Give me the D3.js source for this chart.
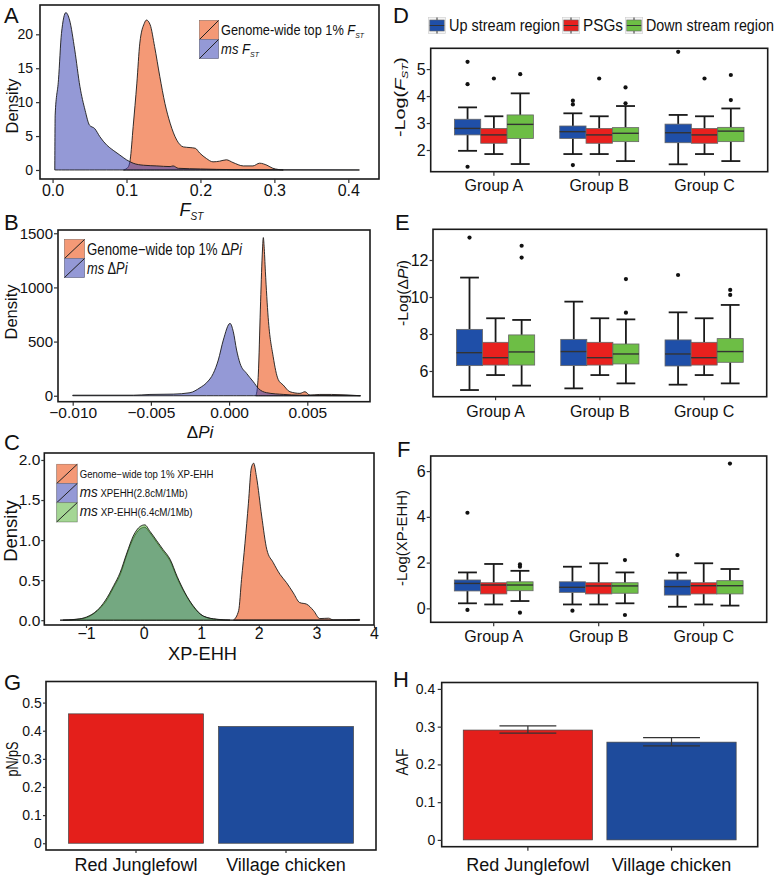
<!DOCTYPE html>
<html>
<head>
<meta charset="utf-8">
<script src="https://cdn.jsdelivr.net/npm/d3@7"></script>
<style>
  body { margin: 0; background: #fff; }
  text { font-family: "Liberation Sans", Arial, sans-serif; fill: #111; }
</style>
</head>
<body>
<svg id="fig" width="777" height="879"></svg>
<script>
// ---- density curves, [x, density] ----
const fstGenome = [[0.096,0],[0.102,0.4],[0.105,1.5],[0.109,6.4],[0.114,12.8],[0.118,18.7],[0.124,21.6],[0.127,22.1],[0.132,21.4],[0.138,18.2],[0.145,13.8],[0.152,9.8],[0.159,6.9],[0.168,4.4],[0.177,3.4],[0.186,3.3],[0.193,3.2],[0.199,2.5],[0.208,1.7],[0.217,1.2],[0.226,1.3],[0.235,1.5],[0.244,1.1],[0.258,0.6],[0.271,0.6],[0.280,1.0],[0.290,0.7],[0.298,0.25],[0.312,0]];
const fstMs = [[0.003,0],[0.0035,8.1],[0.008,13.3],[0.012,20.1],[0.018,23.2],[0.023,22.1],[0.030,17.7],[0.037,12.3],[0.044,8.8],[0.050,6.6],[0.057,6.1],[0.064,4.9],[0.073,3.7],[0.082,2.9],[0.091,2.2],[0.100,1.5],[0.109,1.0],[0.123,0.7],[0.141,0.6],[0.159,0.5],[0.163,0.6],[0.170,0.25],[0.200,0.15],[0.244,0.05],[0.310,0.02],[0.415,0]];

const piGenome = [[0.00170,0],[0.00178,40],[0.00187,200],[0.00200,800],[0.00212,1300],[0.00219,1460],[0.00224,1380],[0.00232,1150],[0.0025,720],[0.00282,360],[0.00314,150],[0.00346,99],[0.00389,37],[0.00453,22],[0.00485,37],[0.00517,6],[0.0058,12],[0.00655,12],[0.0084,0]];
const piMs = [[-0.0100,5],[-0.0061,5],[-0.00506,12],[-0.00357,15],[-0.0025,28],[-0.00186,74],[-0.00144,120],[-0.00101,206],[-0.00069,330],[-0.00037,514],[0.00006,668],[0.00027,591],[0.00048,422],[0.0007,299],[0.00112,206],[0.00155,129],[0.00187,68],[0.0024,28],[0.0035,12],[0.0045,5],[0.0084,0]];

const xpGenome = [[1.56,0],[1.65,0.12],[1.70,0.51],[1.76,0.96],[1.82,1.46],[1.87,1.90],[1.91,1.96],[1.96,1.79],[2.05,1.30],[2.14,0.88],[2.25,0.72],[2.37,0.57],[2.48,0.47],[2.60,0.34],[2.71,0.22],[2.83,0.20],[2.95,0.12],[3.06,0.02],[3.21,0.025],[3.29,0.004],[3.75,0.01]];
const xpMs28 = [[-1.40,0],[-1.10,0.015],[-0.95,0.045],[-0.80,0.12],[-0.66,0.23],[-0.52,0.41],[-0.40,0.58],[-0.29,0.82],[-0.18,1.02],[-0.06,1.14],[0.02,1.16],[0.11,1.09],[0.23,0.97],[0.34,0.86],[0.46,0.74],[0.58,0.53],[0.72,0.33],[0.86,0.17],[1.04,0.05],[1.27,0.01],[1.50,0]];
const xpMs64 = [[-1.45,0],[-1.16,0.012],[-0.99,0.04],[-0.81,0.12],[-0.67,0.24],[-0.52,0.43],[-0.41,0.59],[-0.29,0.84],[-0.18,1.05],[-0.06,1.17],[0.02,1.19],[0.11,1.11],[0.23,0.99],[0.34,0.88],[0.46,0.76],[0.58,0.55],[0.72,0.34],[0.86,0.18],[1.04,0.05],[1.27,0.012],[1.56,0],[3.75,0]];

// ---- boxplots: group, region, lower whisker, q1, median, q3, upper whisker, outliers ----
const groups = ['Group A', 'Group B', 'Group C'];
const regions = ['Up stream region', 'PSGs', 'Down stream region'];
const fstBox = [
  ['Group A','Up stream region',1.97,2.56,2.80,3.14,3.58,[5.27,4.44,1.38]],
  ['Group A','PSGs',1.85,2.25,2.56,2.80,3.25,[4.65]],
  ['Group A','Down stream region',1.48,2.43,2.95,3.30,4.10,[4.81]],
  ['Group B','Up stream region',1.85,2.43,2.68,2.89,3.36,[3.83,3.69,1.44]],
  ['Group B','PSGs',1.85,2.25,2.56,2.80,3.25,[4.65]],
  ['Group B','Down stream region',1.59,2.31,2.62,2.83,3.63,[4.32,3.73]],
  ['Group C','Up stream region',1.47,2.27,2.64,2.96,3.30,[5.64]],
  ['Group C','PSGs',1.85,2.25,2.56,2.80,3.25,[4.65]],
  ['Group C','Down stream region',1.59,2.31,2.70,2.84,3.54,[4.78,3.85]]
];
const piBox = [
  ['Group A','Up stream region',4.97,6.29,6.99,8.25,11.05,[13.21]],
  ['Group A','PSGs',5.78,6.32,6.72,7.55,8.85,[]],
  ['Group A','Down stream region',5.21,6.32,7.03,7.95,8.76,[12.77,12.13]],
  ['Group B','Up stream region',5.06,6.29,7.05,7.71,9.75,[]],
  ['Group B','PSGs',5.78,6.32,6.72,7.55,8.85,[]],
  ['Group B','Down stream region',5.33,6.38,6.92,7.46,8.79,[10.97,9.15]],
  ['Group C','Up stream region',5.26,6.27,6.92,7.68,9.17,[11.19]],
  ['Group C','PSGs',5.78,6.32,6.72,7.55,8.85,[]],
  ['Group C','Down stream region',5.33,6.47,7.05,7.75,9.57,[10.38,10.11]]
];
const xpBox = [
  ['Group A','Up stream region',0.22,0.76,1.09,1.24,1.57,[4.18,-0.07]],
  ['Group A','PSGs',0.17,0.63,1.02,1.12,1.94,[]],
  ['Group A','Down stream region',0.32,0.77,1.02,1.16,1.64,[1.92,1.82,-0.19]],
  ['Group B','Up stream region',0.17,0.70,0.92,1.16,1.82,[-0.10]],
  ['Group B','PSGs',0.17,0.63,0.98,1.12,1.97,[]],
  ['Group B','Down stream region',0.22,0.66,0.98,1.12,1.57,[2.11,-0.29]],
  ['Group C','Up stream region',0.07,0.58,0.95,1.24,1.56,[2.33]],
  ['Group C','PSGs',0.17,0.63,0.99,1.12,1.97,[]],
  ['Group C','Down stream region',0.12,0.63,0.99,1.21,1.72,[6.33]]
];

// ---- bars ----
const breeds = ['Red Junglefowl', 'Village chicken'];
const pnps = [0.46, 0.415];
const aaf = [0.291, 0.259];
const aafLow = [0.283, 0.249];
const aafHigh = [0.302, 0.271];

const svg = d3.select('#fig');
const genomeFill = 'rgb(240,110,60)';
const msFill = 'rgb(60,70,180)';
const ms64Fill = 'rgb(90,180,60)';
const regionColor = d3.scaleOrdinal().domain(regions).range(['#1F4FA8', '#E8211E', '#6DBE45']);
const breedColor = d3.scaleOrdinal().domain(breeds).range(['#E41F1B', '#1E4B9C']);

// text with italic / subscript pieces, optionally squeezed to a measured width
function label(parent, o) {
  const t = parent.append('text')
    .attr('font-size', o.size)
    .attr('text-anchor', o.anchor || 'start');
  const parts = typeof o.parts === 'string' ? [{t: o.parts}] : o.parts;
  let shift = 0;
  parts.forEach(p => {
    const s = t.append('tspan').text(p.t);
    if (p.i) s.attr('font-style', 'italic');
    if (p.size) s.attr('font-size', p.size);
    const want = p.sub ? o.size * 0.2 : 0;
    if (want !== shift) { s.attr('dy', want - shift); shift = want; }
  });
  let tr = `translate(${o.x},${o.y})`;
  if (o.rotate) tr += ` rotate(${o.rotate})`;
  if (o.width) {
    const w = t.node().getComputedTextLength();
    tr += ` scale(${o.width / w},1)`;
  }
  t.attr('transform', tr);
  return t;
}

function frame(g, p) {
  g.append('rect')
    .attr('x', p.x0).attr('y', p.y0)
    .attr('width', p.x1 - p.x0).attr('height', p.y1 - p.y0)
    .attr('fill', 'none').attr('stroke', '#1a1a1a').attr('stroke-width', 1.6);
}

function styleAxis(ax, size) {
  ax.attr('font-family', null).attr('font-size', size);
  ax.select('.domain').remove();
  ax.selectAll('.tick line').attr('stroke', '#333').attr('stroke-width', 1.2);
  ax.selectAll('.tick text').attr('fill', '#111');
}

function axes(g, p, x, y) {
  const bx = g.append('g').attr('transform', `translate(0,${p.y1})`)
    .call(d3.axisBottom(x).tickValues(p.xTicks).tickFormat(p.xFmt).tickSize(p.ts || 4).tickPadding(p.xPad));
  styleAxis(bx, p.xSize);
  const ly = g.append('g').attr('transform', `translate(${p.x0},0)`)
    .call(d3.axisLeft(y).tickValues(p.yTicks).tickFormat(p.yFmt).tickSize(p.ts || 4).tickPadding(p.yPad));
  styleAxis(ly, p.ySize);
}

function densityPanel(p) {
  const g = svg.append('g');
  const x = d3.scaleLinear().domain(p.xDomain).range([p.x0, p.x1]);
  const y = d3.scaleLinear().domain(p.yDomain).range([p.y1, p.y0]);
  const area = d3.area()
    .x(d => x(d[0])).y0(y(0)).y1(d => y(d[1]))
    .curve(d3.curveMonotoneX);
  p.series.forEach(s => {
    g.append('path').datum(s.data).attr('d', area)
      .attr('fill', s.fill).attr('fill-opacity', s.op)
      .attr('stroke', '#1a1a1a').attr('stroke-width', 0.9);
  });
  frame(g, p);
  axes(g, p, x, y);
  // legend
  const L = p.legend;
  L.items.forEach((it, i) => {
    const ky = L.y + i * L.kh;
    g.append('rect').attr('x', L.x).attr('y', ky).attr('width', L.kw).attr('height', L.kh)
      .attr('fill', '#fff').attr('stroke', '#777').attr('stroke-width', 0.7);
    g.append('rect').attr('x', L.x).attr('y', ky).attr('width', L.kw).attr('height', L.kh)
      .attr('fill', it.fill).attr('fill-opacity', it.op);
    g.append('line').attr('x1', L.x).attr('y1', ky + L.kh).attr('x2', L.x + L.kw).attr('y2', ky)
      .attr('stroke', '#222').attr('stroke-width', 1);
    label(g, {x: L.x + L.kw + 2.5, y: ky + L.kh / 2 + L.size * 0.36, parts: it.parts, size: L.size, width: it.width});
  });
  return g;
}

function boxPanel(p) {
  const g = svg.append('g');
  const xg = d3.scaleBand().domain(groups).range([p.x0, p.x1]).paddingInner(0.25).paddingOuter(0.225);
  const xr = d3.scaleBand().domain(regions).range([0, xg.bandwidth()]);
  const y = d3.scaleLinear().domain(p.yDomain).range([p.y1, p.y0]);
  const w = xr.bandwidth();
  p.rows.forEach(r => {
    const [grp, reg, lo, q1, med, q3, hi, out] = r;
    const left = xg(grp) + xr(reg);
    const cx = left + w / 2;
    const cap = w * 0.72;
    [[lo, q1], [q3, hi]].forEach(([a, b]) => {
      g.append('line').attr('x1', cx).attr('x2', cx).attr('y1', y(a)).attr('y2', y(b))
        .attr('stroke', '#1a1a1a').attr('stroke-width', 1.8);
    });
    [lo, hi].forEach(v => {
      g.append('line').attr('x1', cx - cap / 2).attr('x2', cx + cap / 2).attr('y1', y(v)).attr('y2', y(v))
        .attr('stroke', '#1a1a1a').attr('stroke-width', 1.8);
    });
    g.append('rect').attr('x', left).attr('y', y(q3)).attr('width', w).attr('height', y(q1) - y(q3))
      .attr('fill', regionColor(reg)).attr('stroke', '#666').attr('stroke-width', 0.8);
    g.append('line').attr('x1', left).attr('x2', left + w).attr('y1', y(med)).attr('y2', y(med))
      .attr('stroke', '#333').attr('stroke-width', 1.4);
    out.forEach(v => {
      g.append('circle').attr('cx', cx).attr('cy', y(v)).attr('r', 2.1).attr('fill', '#111');
    });
  });
  frame(g, p);
  axes(g, p, xg, y);
  return g;
}

function barPanel(p) {
  const g = svg.append('g');
  const x = d3.scaleBand().domain(breeds).range([p.x0, p.x1]).paddingInner(0.1).paddingOuter(0.15);
  const y = d3.scaleLinear().domain(p.yDomain).range([p.y1, p.y0]);
  breeds.forEach((b, i) => {
    g.append('rect').attr('x', x(b)).attr('y', y(p.values[i]))
      .attr('width', x.bandwidth()).attr('height', y(0) - y(p.values[i]))
      .attr('fill', breedColor(b)).attr('stroke', '#444').attr('stroke-width', 0.7);
    if (p.low) {
      const cx = x(b) + x.bandwidth() / 2, cw = x.bandwidth() * 0.44;
      g.append('line').attr('x1', cx).attr('x2', cx).attr('y1', y(p.low[i])).attr('y2', y(p.high[i]))
        .attr('stroke', '#333').attr('stroke-width', 1.2);
      [p.low[i], p.high[i]].forEach(v => {
        g.append('line').attr('x1', cx - cw / 2).attr('x2', cx + cw / 2).attr('y1', y(v)).attr('y2', y(v))
          .attr('stroke', '#333').attr('stroke-width', 1.2);
      });
    }
  });
  frame(g, p);
  axes(g, p, x, y);
  return g;
}

const f1 = d3.format('.1f');
const f3 = d3.format('.3f');
const fz = d => d === 0 ? '0' : f1(d);

// ---- A ----
densityPanel({
  x0: 40, x1: 379, y0: 5, y1: 179,
  xDomain: [-0.017, 0.4415], yDomain: [-1.33, 24.32],
  xTicks: [0, 0.1, 0.2, 0.3, 0.4], xFmt: f1, xPad: 2, xSize: 16,
  yTicks: [0, 5, 10, 15, 20], yFmt: d3.format('d'), yPad: 3, ySize: 14,
  series: [{data: fstGenome, fill: genomeFill, op: 0.7}, {data: fstMs, fill: msFill, op: 0.55}],
  legend: {x: 199.5, y: 20.5, kw: 19, kh: 19, size: 15, items: [
    {fill: genomeFill, op: 0.7, width: 143, parts: [{t: 'Genome-wide top 1% '}, {t: 'F', i: true}, {t: 'ST', i: true, sub: true, size: 8}]},
    {fill: msFill, op: 0.55, width: 38, parts: [{t: 'ms ', i: true}, {t: 'F', i: true}, {t: 'ST', i: true, sub: true, size: 8}]}
  ]}
});

// ---- B ----
densityPanel({
  x0: 58, x1: 370, y0: 230, y1: 401.7,
  xDomain: [-0.01094, 0.00901], yDomain: [-55, 1530],
  xTicks: [-0.01, -0.005, 0, 0.005], xFmt: f3, xPad: 1, xSize: 15.5,
  yTicks: [0, 500, 1000, 1500], yFmt: d3.format('d'), yPad: 1, ySize: 15,
  series: [{data: piGenome, fill: genomeFill, op: 0.7}, {data: piMs, fill: msFill, op: 0.55}],
  legend: {x: 64.5, y: 239.5, kw: 20, kh: 19, size: 16, items: [
    {fill: genomeFill, op: 0.7, width: 155, parts: [{t: 'Genome\u2212wide top 1% \u0394'}, {t: 'Pi', i: true}]},
    {fill: msFill, op: 0.55, width: 40.5, parts: [{t: 'ms ', i: true}, {t: '\u0394'}, {t: 'Pi', i: true}]}
  ]}
});

// ---- C ----
densityPanel({
  x0: 44.3, x1: 374, y0: 453, y1: 625,
  xDomain: [-1.724, 4.0], yDomain: [-0.06, 2.087],
  xTicks: [-1, 0, 1, 2, 3, 4], xFmt: d3.format('d'), xPad: 0, xSize: 16, ts: 3,
  yTicks: [0, 0.5, 1, 1.5, 2], yFmt: f1, yPad: 1, ySize: 15.5,
  series: [{data: xpGenome, fill: genomeFill, op: 0.7}, {data: xpMs28, fill: msFill, op: 0.55}, {data: xpMs64, fill: ms64Fill, op: 0.55}],
  legend: {x: 56.7, y: 464.3, kw: 20.5, kh: 19.2, size: 10, items: [
    {fill: genomeFill, op: 0.7, width: 134, parts: [{t: 'Genome\u2212wide top 1% XP-EHH'}]},
    {fill: msFill, op: 0.55, width: 108, parts: [{t: 'ms', i: true, size: 14}, {t: ' XPEHH(2.8cM/1Mb)'}]},
    {fill: ms64Fill, op: 0.55, width: 113, parts: [{t: 'ms', i: true, size: 14}, {t: ' XP-EHH(6.4cM/1Mb)'}]}
  ]}
});

// ---- D, E, F ----
boxPanel({x0: 430.7, x1: 767.7, y0: 48.3, y1: 171.7, yDomain: [1.196, 5.77], rows: fstBox,
  xTicks: groups, xFmt: d => d, xPad: 4, xSize: 16, yTicks: [2, 3, 4, 5], yFmt: d3.format('d'), yPad: 1, ySize: 16});
boxPanel({x0: 433, x1: 766.7, y0: 229.3, y1: 396.7, yDomain: [4.61, 13.66], rows: piBox,
  xTicks: groups, xFmt: d => d, xPad: 5, xSize: 16, yTicks: [6, 8, 10, 12], yFmt: d3.format('d'), yPad: 1, ySize: 16, ts: 3.5});
boxPanel({x0: 430.7, x1: 766.7, y0: 456, y1: 622.3, yDomain: [-0.61, 6.66], rows: xpBox,
  xTicks: groups, xFmt: d => d, xPad: 4, xSize: 16, yTicks: [0, 2, 4, 6], yFmt: d3.format('d'), yPad: 1, ySize: 16});

// ---- G, H ----
barPanel({x0: 46, x1: 376, y0: 681.5, y1: 850, yDomain: [-0.024, 0.575], values: pnps,
  xTicks: breeds, xFmt: d => d, xPad: 5, xSize: 18, yTicks: [0, 0.1, 0.2, 0.3, 0.4, 0.5], yFmt: fz, yPad: 1.3, ySize: 14, ts: 3});
barPanel({x0: 441.7, x1: 757.7, y0: 682.5, y1: 846.7, yDomain: [-0.018, 0.417], values: aaf, low: aafLow, high: aafHigh,
  xTicks: breeds, xFmt: d => d, xPad: 8, xSize: 18, yTicks: [0, 0.1, 0.2, 0.3, 0.4], yFmt: fz, yPad: 2.5, ySize: 14});

// ---- D legend ----
const leg = svg.append('g');
let lx = 428.3;
const legWidths = [111, 40, 128];
regions.forEach((r, i) => {
  leg.append('rect').attr('x', lx).attr('y', 17.5).attr('width', 17.4).attr('height', 16)
    .attr('fill', '#f4f4f4').attr('stroke', '#ccc').attr('stroke-width', 0.6);
  leg.append('line').attr('x1', lx + 8.7).attr('x2', lx + 8.7).attr('y1', 17.5).attr('y2', 33.5)
    .attr('stroke', '#333').attr('stroke-width', 1);
  leg.append('rect').attr('x', lx + 1.5).attr('y', 20).attr('width', 14.4).attr('height', 11)
    .attr('fill', regionColor(r)).attr('stroke', '#666').attr('stroke-width', 0.6);
  leg.append('line').attr('x1', lx + 1.5).attr('x2', lx + 15.9).attr('y1', 25.5).attr('y2', 25.5)
    .attr('stroke', '#333').attr('stroke-width', 1);
  label(leg, {x: lx + 20.7, y: 31, parts: r, size: 16, width: legWidths[i]});
  lx += 20.7 + legWidths[i] + 2.3;
});

// ---- axis titles ----
const T = svg.append('g');
label(T, {x: 191.5, y: 216, anchor: 'middle', size: 18, parts: [{t: 'F', i: true}, {t: 'ST', i: true, sub: true, size: 10}]});
label(T, {x: 200, y: 438, anchor: 'middle', size: 17, parts: [{t: '\u0394'}, {t: 'Pi', i: true}]});
label(T, {x: 202.5, y: 660, anchor: 'middle', size: 18, parts: 'XP-EHH', width: 69});

const ytitle = (cx, cy, parts, size, width) =>
  label(T, {x: cx + size * 0.36, y: cy, rotate: -90, anchor: 'middle', size, parts, width});
ytitle(12, 106, 'Density', 17, 55);
ytitle(11, 312, 'Density', 17, 55);
ytitle(11, 531, 'Density', 18, 61.7);
ytitle(400, 97, [{t: '-Log('}, {t: 'F', i: true}, {t: 'ST', i: true, sub: true, size: 9}, {t: ')'}], 15, 80);
ytitle(403, 293, [{t: '-Log(\u0394'}, {t: 'Pi', i: true}, {t: ')'}], 15, 66);
ytitle(402, 538, '-Log(XP-EHH)', 15, 96);
ytitle(12, 759, 'pN/pS', 16, 35);
ytitle(402, 762, 'AAF', 17, 27);

// ---- panel letters ----
[['A', 4, 23], ['B', 4, 230], ['C', 4, 450], ['D', 393, 23], ['E', 395, 230], ['F', 397, 457], ['G', 4, 690], ['H', 393, 687]]
  .forEach(([s, x, y]) => T.append('text').attr('x', x).attr('y', y).attr('font-size', 22).text(s));
</script>
</body>
</html>
